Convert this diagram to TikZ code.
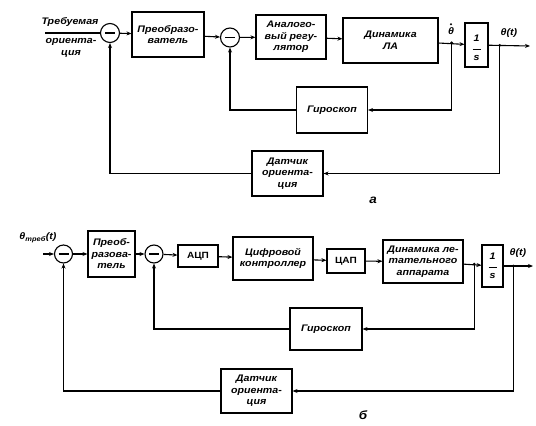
\documentclass[tikz,border=0pt]{standalone}
\usepackage{fontspec}
\setmainfont{Liberation Sans}
\newfontfamily\lff[FakeStretch=1.12]{Liberation Sans}
\usetikzlibrary{arrows.meta,calc}
\newcommand\lf{\lff\fontsize{9.5}{11.5}\selectfont\bfseries\itshape}
\begin{document}
\begin{tikzpicture}[x=1pt,y=-1pt,line width=1.1pt,
  blk/.style={draw,inner sep=1pt,align=center,font=\lf},
  sum/.style={draw,circle,minimum size=19pt,inner sep=0pt},
  arr/.style={-{Stealth[length=5pt,width=4pt]}},
  brdot/.style={circle,fill,inner sep=0pt,minimum size=3pt},
  lbl/.style={font=\lf,align=center,inner sep=0pt},
  minus/.style={line width=1.6pt}]
\useasboundingbox (0,0) rectangle (536,426);

% ---------------- diagram a ----------------
\node[sum] (a1) at (110,33) {};
\node[blk,minimum width=72pt,minimum height=45pt] (ap) at (168,34.5) {Преобразо-\\ватель};
\node[sum] (a2) at (230,37.5) {};
\node[blk,minimum width=70pt,minimum height=44pt] (ar) at (291,37) {Аналого-\\вый регу-\\лятор};
\node[blk,minimum width=95pt,minimum height=45pt] (ad) at (390.5,40.5) {Динамика\\ЛА};
\node[blk,minimum width=23pt,minimum height=44pt] (ai) at (476.5,45) {};
\node[lbl] (aifr) at ([yshift=-3]ai.center) {1\\[-3pt]\rule{8pt}{0.9pt}\\[-1pt]s};
\node[blk,minimum width=71pt,minimum height=46pt] (ag) at (332,110) {Гироскоп};
\node[blk,minimum width=71pt,minimum height=45pt] (as) at (287.5,173.5) {Датчик\\ориента-\\ция};

\draw[minus] ([xshift=-5]a1.center) -- ([xshift=5]a1.center);
\draw[minus] ([xshift=-5]a2.center) -- ([xshift=5]a2.center);

\coordinate (ain) at (45,33);
\coordinate (aout) at (530,46);
\node[lbl] (at1) at (70,22) {Требуемая};
\node[lbl] (at2) at (71,48) {ориента-\\ция};
\node[lbl] (athd) at (451,31) {θ};
\fill ([yshift=2.8pt]athd.north) circle (1.1pt);
\node[lbl] (ath) at (509,33) {θ(t)};
\node[font=\lff\fontsize{12}{14}\selectfont\bfseries\itshape,inner sep=0pt] (alab) at (373,200) {а};

\draw (ain) -- (a1.west);
\draw[arr] (a1) -- (ap);
\draw[arr] (ap) -- (a2);
\draw[arr] (a2) -- (ar);
\draw[arr] (ar) -- (ad);
\draw[arr] (ad) -- (ai);
\draw[arr] (ai) -- (aout);
\node[brdot] (ab1) at ($(ad.east)!0.5!(ai.west)$) {};
\node[brdot] (ab2) at ($(ai.east)!0.27!(aout)$) {};
\draw[arr] (ab1.center) |- (ag.east);
\draw[arr] (ag.west) -| (a2.south);
\draw[arr] (ab2.center) |- (as.east);
\draw[arr] (as.west) -| (a1.south);

% ---------------- diagram b ----------------
\node[sum,minimum size=18pt] (b1) at (63.5,254) {};
\node[blk,minimum width=47pt,minimum height=46pt] (bp) at (111.5,254) {Преоб-\\разова-\\тель};
\node[sum,minimum size=18pt] (b2) at (154,254) {};
\node[blk,font=\lff\fontsize{9}{10.5}\selectfont\bfseries,minimum width=40pt,minimum height=22pt] (bc) at (198,256) {АЦП};
\node[blk,minimum width=80pt,minimum height=43pt] (bk) at (273,258.5) {Цифровой\\контроллер};
\node[blk,font=\lff\fontsize{9}{10.5}\selectfont\bfseries,minimum width=38pt,minimum height=24pt] (bd) at (346,261) {ЦАП};
\node[blk,minimum width=80pt,minimum height=43pt] (bl) at (423,261.5) {Динамика ле-\\тательного\\аппарата};
\node[blk,minimum width=21pt,minimum height=42pt] (bi) at (492.5,266) {};
\node[lbl] (bifr) at (bi.center) {1\\[-3pt]\rule{8pt}{0.9pt}\\[-1pt]s};
\node[blk,minimum width=72pt,minimum height=42pt] (bg) at (326,329) {Гироскоп};
\node[blk,minimum width=71pt,minimum height=44pt] (bs) at (256.5,391) {Датчик\\ориента-\\ция};

\draw[minus] ([xshift=-5]b1.center) -- ([xshift=5]b1.center);
\draw[minus] ([xshift=-5]b2.center) -- ([xshift=5]b2.center);

\coordinate (bin) at (43,254);
\coordinate (bout) at (533,266);
\node[lbl] (bt) at (38,238) {θ\textsubscript{треб}(t)};
\node[lbl] (bth) at (518,253) {θ(t)};
\node[font=\lff\fontsize{12}{14}\selectfont\bfseries\itshape,inner sep=0pt] (blab) at (363,415) {б};

\draw[arr] (bin) -- (b1.west);
\draw[arr] (b1) -- (bp);
\draw[arr] (bp) -- (b2);
\draw[arr] (b2) -- (bc);
\draw[arr] (bc) -- (bk);
\draw[arr] (bk) -- (bd);
\draw[arr] (bd) -- (bl);
\draw[arr] (bl) -- (bi);
\draw[arr] (bi) -- (bout);
\node[brdot] (bb1) at ($(bl.east)!0.6!(bi.west)$) {};
\node[brdot] (bb2) at ($(bi.east)!0.33!(bout)$) {};
\draw[arr] (bb1.center) |- (bg.east);
\draw[arr] (bg.west) -| (b2.south);
\draw[arr] (bb2.center) |- (bs.east);
\draw[arr] (bs.west) -| (b1.south);
\end{tikzpicture}
\end{document}
